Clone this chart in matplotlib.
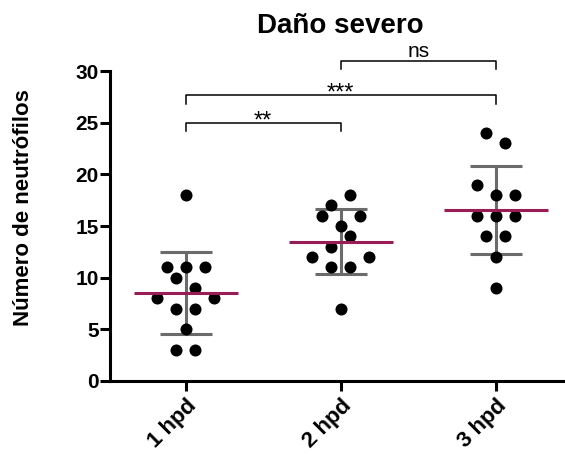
import numpy as np
import matplotlib
matplotlib.use("Agg")
import matplotlib.pyplot as plt

plt.rcParams['font.family'] = ['Liberation Sans', 'DejaVu Sans']

# data (order inside each list sets the swarm layout)
groups = ["1 hpd", "2 hpd", "3 hpd"]
hpd1 = [18, 11, 11, 11, 10, 9, 8, 7, 7, 8, 5, 3, 3]
hpd2 = [17, 18, 16, 15, 16, 13, 14, 12, 11, 11, 12, 7]
hpd3 = [24, 23, 19, 18, 18, 16, 16, 16, 14, 14, 12, 9]
series = [hpd1, hpd2, hpd3]

# significance brackets: (from group, to group, height, label)
comparisons = [(0, 1, 25.0, "**"), (0, 2, 27.7, "***"), (1, 2, 31.0, "ns")]

mean_col = "#9a1c55"
bar_col = "#6b6b6b"


def swarm(vals, step):
    # bins values bottom-up (two units tall) and spreads each bin sideways
    vals = np.asarray(vals, float)
    offs = np.zeros(len(vals))
    left = set(range(len(vals)))
    while left:
        lo = min(vals[i] for i in left)
        members = [i for i in sorted(left) if vals[i] - lo < 2]
        n = len(members)
        for k, i in enumerate(members):
            offs[i] = (k - (n - 1) / 2) * step
        left -= set(members)
    return offs


fig = plt.figure(figsize=(5.65, 4.54), dpi=100)
ax = fig.add_axes([0.1947, 0.1608, 0.805, 0.6828])

for i, vals in enumerate(series):
    x0 = i + 1
    vals = np.asarray(vals, float)
    m = vals.mean()
    sd = vals.std(ddof=1)
    ax.errorbar(x0, m, yerr=sd, fmt='none', ecolor=bar_col, elinewidth=2.2,
                capsize=19, capthick=2.2, zorder=2)
    ax.scatter(x0 + swarm(vals, 0.122), vals, s=75, color='black',
               linewidths=0, zorder=3)
    ax.hlines(m, x0 - 0.335, x0 + 0.335, color=mean_col, lw=2.2, zorder=4)

for a, b, h, lab in comparisons:
    ax.plot([a + 1, a + 1, b + 1, b + 1], [h - 0.85, h, h, h - 0.85],
            color='black', lw=1.1, clip_on=False)
    if lab == "ns":
        ax.text((a + b) / 2 + 1, h + 0.35, lab, ha='center', va='baseline',
                fontsize=15)
    else:
        ax.text((a + b) / 2 + 1, h - 0.45, lab, ha='center', va='baseline',
                fontsize=17)

ax.set_xlim(0.513, 3.444)
ax.set_ylim(0, 30)
ax.set_yticks(range(0, 31, 5))
ax.set_xticks([1, 2, 3])
ax.set_xticklabels(groups, rotation=45, ha='right', rotation_mode='anchor')

for s in ['top', 'right']:
    ax.spines[s].set_visible(False)
for s in ['left', 'bottom']:
    ax.spines[s].set_linewidth(2.2)
ax.tick_params(axis='both', length=7, width=2.2, labelsize=15)
ax.tick_params(axis='y', pad=1)
ax.tick_params(axis='x', pad=3, labelsize=16)
for t in ax.get_xticklabels() + ax.get_yticklabels():
    t.set_fontweight('bold')

fig.text(24 / 565, 1 - 208 / 454, "Número de neutrófilos", rotation=90,
         ha='center', va='center', fontsize=16, fontweight='bold')
fig.text(340 / 565, 1 - 33 / 454, "Daño severo", ha='center', va='baseline',
         fontsize=20, fontweight='bold')

fig.savefig("out.png", dpi=100)
